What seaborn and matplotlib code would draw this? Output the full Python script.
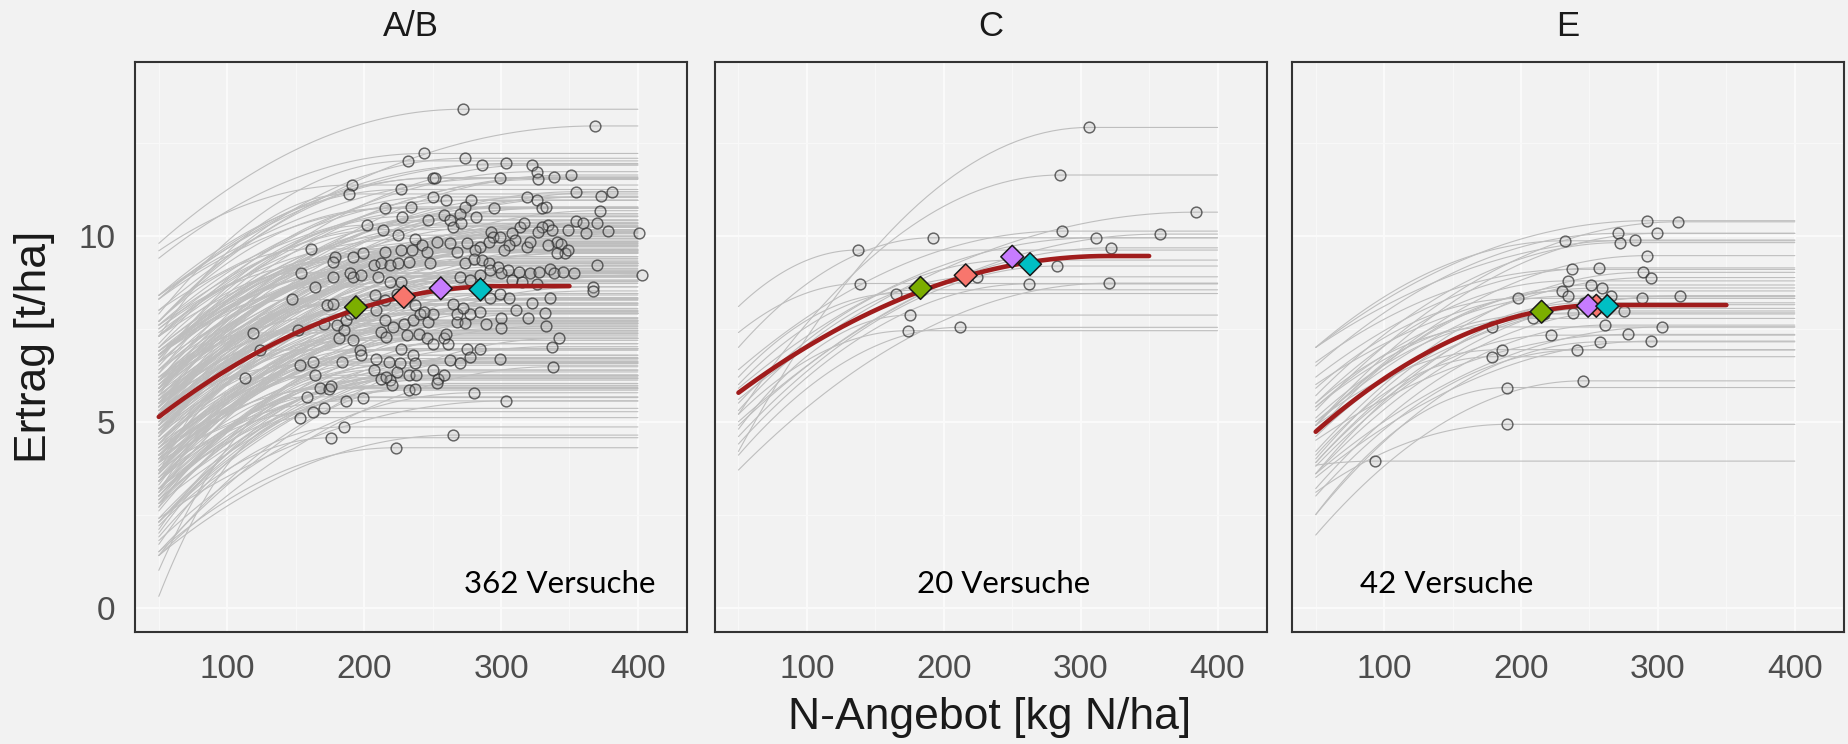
import numpy as np
import pandas as pd
import seaborn as sns
import matplotlib.pyplot as plt

sns.set_style("white")
plt.rcParams['font.family'] = ['Liberation Sans', 'DejaVu Sans']

panels = ["A/B", "C", "E"]
trial_labels = ["362 Versuche", "20 Versuche", "42 Versuche"]
label_n = [343, 244, 146]

# one entry per trial: N where the fit reaches its plateau, plateau yield, fitted yield at N=50
ab_n = [244, 232, 250, 252, 191, 189, 227, 250, 234, 215,
        228, 260, 247, 202, 214, 225, 237, 258, 161, 179,
        177, 192, 199, 215, 227, 235, 242, 246, 253, 207,
        212, 219, 225, 233, 248, 154, 177, 190, 192, 198,
        210, 219, 227, 164,
        272, 369, 274, 286, 304, 323, 326, 327, 299, 339,
        351, 355, 373, 381, 319, 326, 330, 333, 278, 295,
        274, 270, 282, 372, 355, 360, 370, 378, 401, 362,
        349, 334, 337, 330, 327, 314, 317, 308, 293, 294,
        263, 265, 271, 341, 344, 347, 349, 341, 334, 319,
        321, 310, 306, 299, 302, 291, 285, 281, 275, 268,
        263, 274, 280, 286, 291, 298, 305, 313, 321, 328,
        336, 339, 345, 353, 370, 300, 292, 270, 277, 285,
        308, 315, 326, 367, 403,
        147, 173, 177, 119, 113, 124, 152, 153, 163, 164,
        168, 174, 176, 158, 153, 163, 171, 176, 185, 187,
        199, 223, 184, 180, 185, 182, 171, 192, 197, 198,
        187, 190, 209, 215, 212, 216, 209, 207, 212, 218,
        226, 224, 219, 220, 216, 227, 236, 237, 233, 238,
        233, 237, 221, 229, 236, 241, 247, 250, 231, 240,
        246, 250, 258, 261, 260, 250, 254, 258, 253, 263,
        270, 275, 277, 285, 268, 274, 268, 277, 285, 289,
        280, 265, 300, 300, 311, 320, 323, 332, 336, 333,
        299, 304, 342, 337, 338, 367, 208, 215, 224, 237,
        244, 265, 272, 292, 299, 306]
ab_y = [12.22, 12.02, 11.55, 11.57, 11.37, 11.13, 11.25, 11.05, 10.78, 10.74,
        10.52, 10.96, 10.43, 10.29, 10.17, 10.02, 9.93, 10.56, 9.65, 9.44,
        9.30, 9.44, 9.55, 9.57, 9.62, 9.62, 9.75, 9.57, 9.84, 9.21,
        9.26, 9.21, 9.26, 9.30, 9.26, 9.01, 8.90, 8.99, 8.90, 8.94,
        8.90, 8.77, 8.77, 8.63,
        13.41, 12.96, 12.09, 11.91, 11.95, 11.91, 11.73, 11.52, 11.55, 11.59,
        11.64, 11.19, 11.07, 11.19, 11.04, 10.96, 10.74, 10.77, 10.96, 10.74,
        10.77, 10.60, 10.52, 10.68, 10.41, 10.35, 10.35, 10.13, 10.08, 10.09,
        10.16, 10.29, 10.16, 10.25, 10.11, 10.23, 10.34, 10.07, 10.11, 9.98,
        10.43, 10.25, 10.34, 9.84, 9.78, 9.53, 9.62, 9.53, 9.75, 9.71,
        9.84, 9.89, 9.75, 9.98, 9.62, 9.84, 9.71, 9.62, 9.80, 9.57,
        9.80, 9.26, 9.39, 9.35, 9.26, 9.17, 9.08, 9.04, 8.99, 9.04,
        9.12, 8.99, 9.04, 9.01, 9.21, 8.99, 9.08, 8.90, 8.81, 8.94,
        8.81, 8.77, 8.72, 8.63, 8.95,
        8.29, 8.14, 8.18, 7.39, 6.18, 6.93, 7.46, 6.52, 6.61, 6.25,
        5.92, 5.89, 5.96, 5.67, 5.11, 5.27, 5.36, 4.57, 4.86, 5.56,
        5.65, 4.30, 6.61, 7.60, 7.46, 7.24, 7.64, 7.19, 6.93, 6.79,
        7.73, 7.91, 8.00, 7.73, 7.42, 7.28, 6.70, 6.39, 6.16, 6.61,
        6.57, 6.34, 6.12, 5.98, 6.21, 6.97, 6.79, 6.57, 6.25, 6.25,
        5.85, 5.89, 7.55, 7.64, 7.73, 7.91, 7.69, 7.91, 7.33, 7.37,
        7.24, 7.10, 7.24, 7.10, 7.37, 6.39, 6.16, 6.25, 6.03, 6.66,
        6.59, 6.97, 6.73, 6.97, 7.69, 7.66, 7.91, 7.91, 7.96, 7.64,
        5.78, 4.64, 7.78, 7.51, 8.00, 7.80, 8.20, 7.93, 8.34, 7.57,
        6.70, 5.56, 7.24, 7.02, 6.48, 8.52, 8.41, 8.27, 8.45, 8.14,
        7.96, 8.18, 8.05, 8.32, 8.45, 8.32]
ab_y50 = [9.4, 7.9, 8.3, 7.7, 9.6, 7.3, 8.4, 7.1, 8.3, 7.7,
          6.7, 7.6, 7.6, 6.6, 7.3, 6.5, 7.6, 5.9, 7.7, 6.3,
          7.5, 6.7, 6.1, 6.8, 7.0, 5.5, 6.6, 5.8, 7.3, 5.2,
          6.6, 5.6, 6.9, 6.0, 5.2, 7.0, 6.9, 5.4, 6.3, 5.8,
          6.9, 4.6, 6.0, 5.7,
          9.8, 8.0, 7.7, 8.3, 8.4, 6.7, 7.5, 6.8, 8.4, 5.9,
          7.3, 5.9, 6.8, 6.1, 6.1, 6.8, 6.8, 5.4, 7.3, 6.4,
          8.0, 5.8, 7.0, 5.2, 6.4, 5.5, 4.8, 5.3, 5.3, 4.4,
          5.6, 5.4, 6.6, 4.7, 6.1, 5.4, 6.8, 5.8, 5.5, 6.2,
          7.4, 5.8, 6.8, 4.9, 6.1, 3.7, 5.3, 4.4, 6.0, 5.4,
          4.9, 5.9, 6.2, 5.1, 5.7, 5.5, 6.8, 4.6, 6.4, 5.3,
          6.9, 5.5, 4.9, 5.7, 5.9, 4.3, 5.1, 4.5, 5.6, 3.5,
          4.9, 3.9, 5.2, 4.2, 3.6, 5.2, 5.7, 4.4, 5.2, 4.7,
          5.6, 3.4, 4.7, 3.2, 4.3,
          6.1, 5.0, 5.9, 6.1, 3.6, 5.2, 4.9, 5.2, 3.1, 4.2,
          1.0, 4.1, 3.4, 2.7, 0.3, 3.5, 2.1, 2.2, 1.9, 3.9,
          1.7, 1.5, 3.4, 5.8, 4.8, 4.0, 5.4, 5.0, 3.3, 4.1,
          4.7, 6.2, 3.9, 5.1, 3.9, 5.0, 3.7, 2.8, 3.4, 4.1,
          2.6, 3.4, 2.7, 3.9, 2.0, 4.2, 3.0, 4.0, 3.0, 2.3,
          2.9, 3.2, 3.6, 4.6, 4.1, 5.5, 3.1, 4.8, 3.6, 4.8,
          3.8, 3.0, 3.9, 4.1, 2.9, 3.1, 2.3, 3.7, 1.4, 3.4,
          2.3, 4.0, 2.9, 2.4, 4.3, 4.5, 3.4, 4.3, 3.7, 4.7,
          1.8, 1.4, 3.2, 4.2, 3.7, 2.8, 4.1, 4.0, 3.0, 3.2,
          2.3, 2.4, 1.5, 2.8, 1.4, 4.4, 5.4, 4.6, 5.6, 5.4,
          3.7, 4.7, 4.0, 5.3, 3.2, 4.5]

c_n = [306, 285, 384, 286, 311, 358, 322, 192, 137, 139,
       165, 224, 283, 262, 321, 175, 174, 212, 250, 183]
c_y = [12.92, 11.64, 10.64, 10.13, 9.95, 10.05, 9.68, 9.95, 9.62, 8.72,
       8.45, 8.90, 9.19, 8.71, 8.73, 7.87, 7.45, 7.54, 9.35, 8.55]
c_y50 = [4.2, 5.2, 5.6, 6.4, 5.9, 5.0, 4.9, 7.0, 8.1, 7.4,
         6.2, 5.3, 4.6, 4.4, 3.7, 4.8, 5.2, 4.1, 5.5, 6.0]

e_n = [292, 315, 271, 272, 283, 299, 232, 292, 237, 234,
       230, 234, 257, 289, 295, 251, 259, 266, 198, 288,
       316, 238, 275, 209, 179, 261, 303, 222, 278, 258,
       295, 241, 186, 179, 245, 190, 190, 93, 252, 262,
       217, 246]
e_y = [10.41, 10.38, 10.07, 9.82, 9.89, 10.07, 9.87, 9.47, 9.10, 8.79,
       8.52, 8.38, 9.14, 9.02, 8.88, 8.68, 8.60, 8.38, 8.32, 8.32,
       8.39, 7.93, 7.98, 7.78, 7.55, 7.60, 7.55, 7.33, 7.35, 7.15,
       7.17, 6.93, 6.94, 6.75, 6.10, 5.92, 4.93, 3.94, 8.05, 8.15,
       7.90, 8.20]
e_y50 = [7.0, 5.3, 6.5, 5.7, 7.0, 4.9, 7.0, 4.9, 6.6, 5.5,
         4.7, 5.4, 6.2, 4.2, 5.0, 4.9, 6.0, 3.6, 5.9, 3.8,
         4.9, 4.6, 3.6, 5.1, 5.5, 3.2, 3.6, 3.9, 4.5, 2.5,
         3.5, 3.0, 5.0, 4.1, 1.95, 2.5, 3.1, 3.83, 3.9, 4.8,
         5.4, 4.0]

# mean response curve per panel
mean_y50 = [5.13, 5.78, 4.73]
mean_nmax = [300, 320, 260]
mean_ymax = [8.65, 9.46, 8.14]

# optimum markers, drawn in this order
opt_kinds = ["k1", "k2", "k3", "k4"]
opt_colors = {"k1": "#F8766D", "k2": "#7CAE00", "k3": "#C77CFF", "k4": "#00BFC4"}
ab_opt_n = [229, 194, 256, 285]
ab_opt_y = [8.36, 8.08, 8.59, 8.56]
c_opt_n = [216, 183, 250, 263]
c_opt_y = [8.94, 8.60, 9.44, 9.24]
e_opt_n = [255, 215, 249, 263]
e_opt_y = [8.12, 7.96, 8.12, 8.11]

trials = [(ab_n, ab_y, ab_y50), (c_n, c_y, c_y50), (e_n, e_y, e_y50)]
optima = [(ab_opt_n, ab_opt_y), (c_opt_n, c_opt_y), (e_opt_n, e_opt_y)]


def plateau_curves(n_opt, y_opt, y50, n_end):
    # quadratic-plateau fit lines, one unit per trial
    parts = []
    for i, (xp, yp, y0) in enumerate(zip(n_opt, y_opt, y50)):
        c = (yp - y0) / (xp - 50) ** 2
        x = np.linspace(50, min(xp, n_end), 40)
        y = yp - c * (xp - x) ** 2
        if xp < n_end:
            x = np.append(x, n_end)
            y = np.append(y, yp)
        parts.append(pd.DataFrame({'n': x, 'y': y, 'trial': i}))
    return pd.concat(parts, ignore_index=True)


bg = '#F2F2F2'
fig = plt.figure(figsize=(18.49, 7.44), dpi=100, facecolor=bg)
lefts = [0.0730, 0.3865, 0.6987]
axes = [fig.add_axes([l, 0.1505, 0.2985, 0.7666]) for l in lefts]

for i, ax in enumerate(axes):
    ax.set_facecolor(bg)
    n_opt, y_opt, y50 = trials[i]

    grey = plateau_curves(n_opt, y_opt, y50, 400)
    sns.lineplot(data=grey, x='n', y='y', units='trial', estimator=None,
                 color='#BEBEBE', linewidth=0.8, legend=False, ax=ax, zorder=1)

    sns.scatterplot(x=n_opt, y=y_opt, ax=ax, s=60,
                    facecolor=(0.72, 0.72, 0.72, 0.22),
                    edgecolor=(0.18, 0.18, 0.18, 0.72), linewidth=1.05,
                    legend=False, zorder=2)

    mean = plateau_curves([mean_nmax[i]], [mean_ymax[i]], [mean_y50[i]], 350)
    sns.lineplot(data=mean, x='n', y='y', color='#A01C1C', linewidth=3.3,
                 estimator=None, legend=False, ax=ax, zorder=3)

    opt = pd.DataFrame({'n': optima[i][0], 'y': optima[i][1], 'kind': opt_kinds})
    sns.scatterplot(data=opt, x='n', y='y', hue='kind', palette=opt_colors,
                    marker='D', s=135, edgecolor='#1A1A1A', linewidth=1.1,
                    legend=False, ax=ax, zorder=4)

    ax.text(label_n[i], 0.38, trial_labels[i], ha='center', va='baseline',
            fontsize=22.5, family=['Lato', 'DejaVu Sans'], color='black')
    ax.text(0.5, 1.061, panels[i], transform=ax.transAxes, ha='center',
            va='center', fontsize=25, color='#1A1A1A')

    ax.set_xlim(32.6, 435.8)
    ax.set_ylim(-0.66, 14.69)
    ax.set_xticks([100, 200, 300, 400])
    ax.set_xticks([50, 150, 250, 350], minor=True)
    ax.set_yticks([0, 5, 10])
    ax.set_yticks([2.5, 7.5, 12.5], minor=True)
    ax.set_axisbelow(True)
    ax.grid(which='major', color='#FBFBFB', linewidth=1.3)
    ax.grid(which='minor', color='#F8F8F8', linewidth=0.8)
    ax.tick_params(which='minor', length=0)
    ax.tick_params(axis='x', which='major', length=9, width=2.0, color='#333333',
                   labelsize=24, labelcolor='#4D4D4D', pad=7)
    if i == 0:
        ax.tick_params(axis='y', which='major', length=9, width=2.0, color='#333333',
                       labelsize=24, labelcolor='#4D4D4D', pad=5)
    else:
        ax.tick_params(axis='y', which='major', length=0, labelleft=False)
    ax.set_xlabel('')
    ax.set_ylabel('')
    for sp in ax.spines.values():
        sp.set_color('#333333')
        sp.set_linewidth(1.5)

fig.text(989.5 / 1849, 26 / 744, 'N-Angebot [kg N/ha]', ha='center', va='center',
         fontsize=32, color='#1A1A1A')
fig.text(35 / 1849, 397 / 744, 'Ertrag [t/ha]', ha='center', va='center',
         rotation=90, fontsize=32, color='#1A1A1A')

fig.savefig('out.png', dpi=100, facecolor=bg)
